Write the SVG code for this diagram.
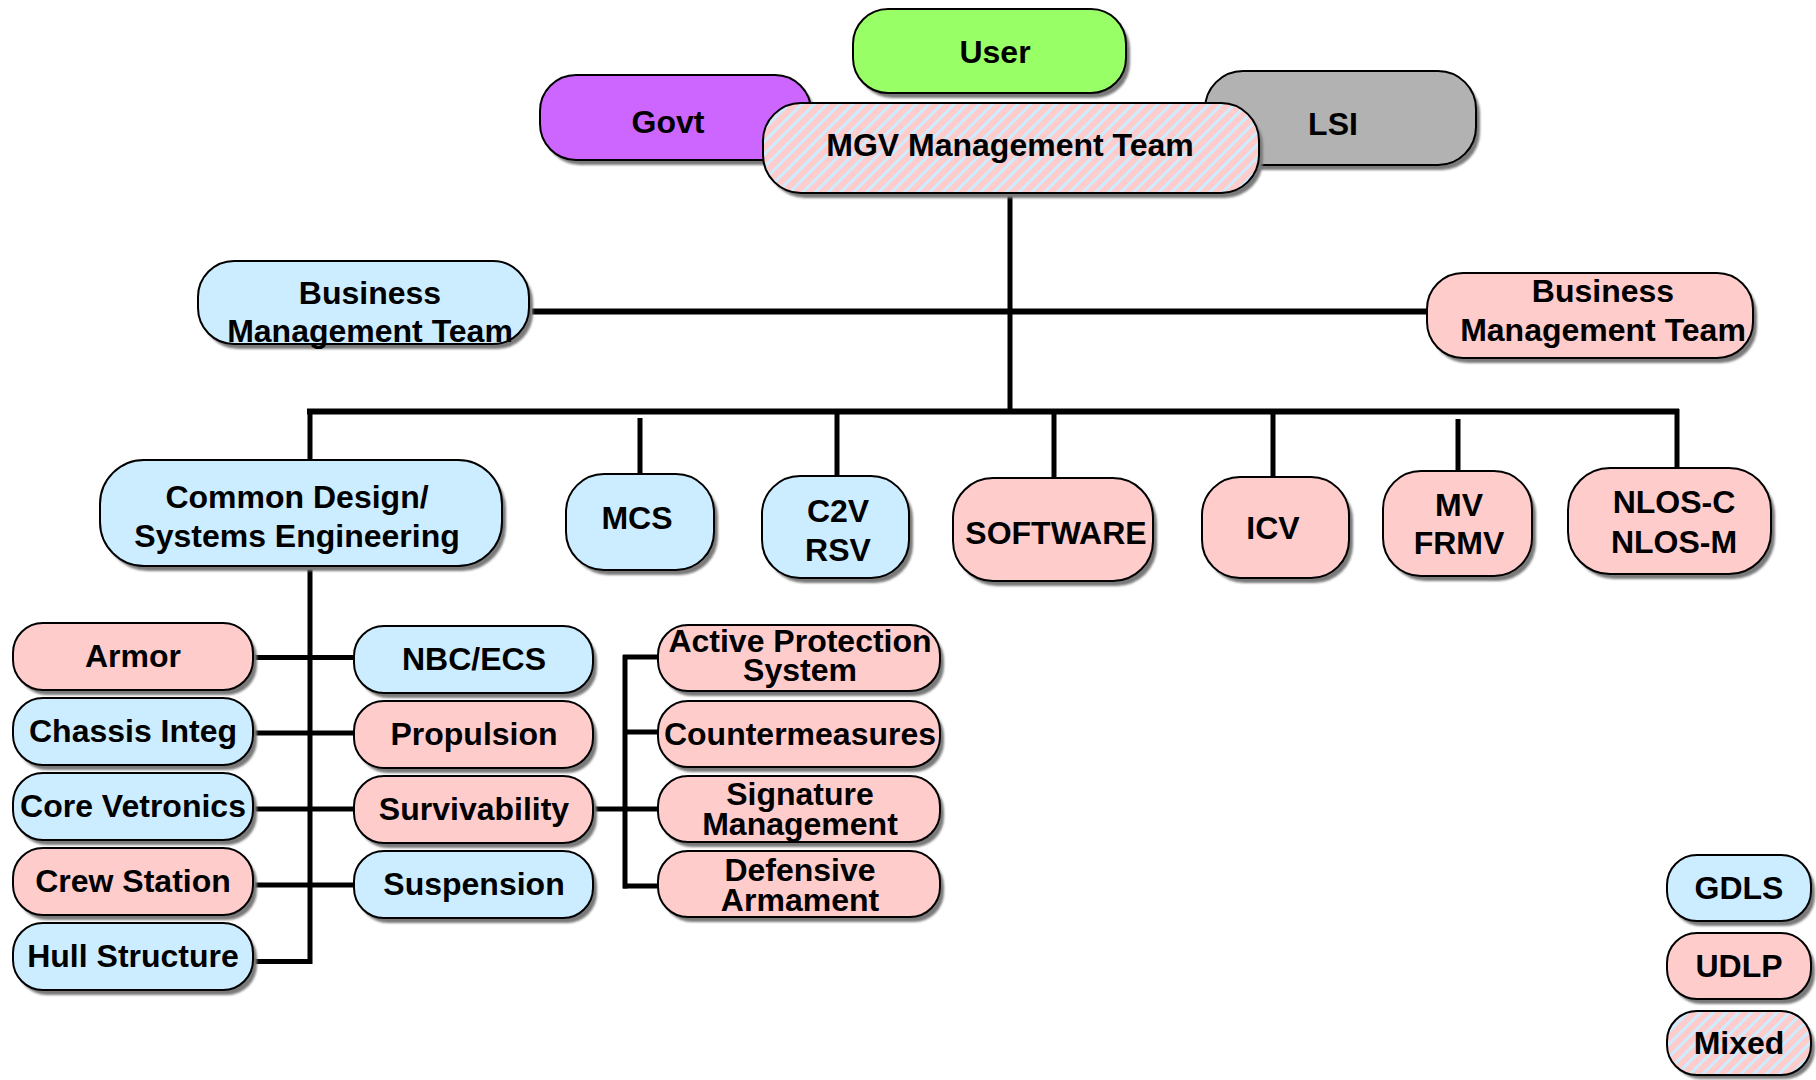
<svg xmlns="http://www.w3.org/2000/svg" width="1816" height="1080" viewBox="0 0 1816 1080">
<style>
.box{stroke:#000;stroke-width:2}
.sh{fill:#7a7a7a;filter:url(#soft)}
.b{fill:#CCECFF}
.p{fill:#FFCCCC}
.m{fill:url(#mix)}
.t{font-family:"Liberation Sans",Arial,Helvetica,sans-serif;font-weight:bold;font-size:32px;fill:#000;text-anchor:middle}
.c{fill:none;stroke:#000;stroke-width:5;stroke-linecap:butt}
.cw{fill:none;stroke:#000;stroke-width:6}
</style>
<defs>
<pattern id="mix" patternUnits="userSpaceOnUse" width="9" height="9" patternTransform="rotate(45)">
<rect width="9" height="9" fill="#FFCCCC"/>
<rect width="3" height="9" fill="#CCECFF"/>
</pattern>
<filter id="soft" x="-5%" y="-5%" width="110%" height="115%"><feGaussianBlur stdDeviation="1"/></filter>
</defs>
<rect width="1816" height="1080" fill="#fff"/>

<g id="connectors">
<line class="c" x1="1010" y1="193" x2="1010" y2="412"/>
<line class="cw" x1="532" y1="311.5" x2="1430" y2="311.5"/>
<line class="cw" x1="307" y1="411.5" x2="1679" y2="411.5"/>
<line class="c" x1="310" y1="409" x2="310" y2="460"/>
<line class="c" x1="640" y1="418" x2="640" y2="474"/>
<line class="c" x1="837" y1="411" x2="837" y2="476"/>
<line class="c" x1="1054" y1="411" x2="1054" y2="478"/>
<line class="c" x1="1273" y1="411" x2="1273" y2="477"/>
<line class="c" x1="1458" y1="419" x2="1458" y2="478"/>
<line class="c" x1="1677" y1="409" x2="1677" y2="468"/>
<polyline class="c" points="310,566 310,961.5 255,961.5"/>
<line class="c" x1="255" y1="657.5" x2="354" y2="657.5"/>
<line class="c" x1="255" y1="733" x2="354" y2="733"/>
<line class="c" x1="255" y1="809" x2="354" y2="809"/>
<line class="c" x1="255" y1="885" x2="354" y2="885"/>
<line class="c" x1="595" y1="809" x2="625" y2="809"/>
<line class="c" x1="625" y1="655" x2="625" y2="888.5"/>
<line class="c" x1="623" y1="657" x2="658" y2="657"/>
<line class="c" x1="623" y1="732" x2="658" y2="732"/>
<line class="c" x1="623" y1="809" x2="658" y2="809"/>
<line class="c" x1="623" y1="886" x2="658" y2="886"/>
</g>

<g id="govt"><rect class="sh" x="544" y="80" width="271" height="85" rx="36"/><rect class="box" fill="#CC66FF" x="540" y="75" width="271" height="85" rx="36"/><text class="t" x="668" y="133">Govt</text></g>
<g id="lsi"><rect class="sh" x="1209" y="76" width="271" height="94" rx="38"/><rect class="box" fill="#B2B2B2" x="1205" y="71" width="271" height="94" rx="38"/><text class="t" x="1333" y="135">LSI</text></g>
<g id="user"><rect class="sh" x="857" y="14" width="273" height="84" rx="35"/><rect class="box" fill="#99FF66" x="853" y="9" width="273" height="84" rx="35"/><text class="t" x="995" y="63">User</text></g>
<g id="mgv"><rect class="sh" x="767" y="108" width="496" height="90" rx="38"/><rect class="box m" x="763" y="103" width="496" height="90" rx="38"/><text class="t" x="1010" y="156">MGV Management Team</text></g>

<g id="bmt-left"><rect class="sh" x="202" y="266" width="331" height="83" rx="36"/><rect class="box b" x="198" y="261" width="331" height="83" rx="36"/><text class="t" x="370" y="304">Business</text><text class="t" x="370" y="342">Management Team</text></g>
<g id="bmt-right"><rect class="sh" x="1431" y="278" width="326" height="85" rx="36"/><rect class="box p" x="1427" y="273" width="326" height="85" rx="36"/><text class="t" x="1603" y="302">Business</text><text class="t" x="1603" y="341">Management Team</text></g>

<g id="common"><rect class="sh" x="104" y="465" width="402" height="106" rx="44"/><rect class="box b" x="100" y="460" width="402" height="106" rx="44"/><text class="t" x="297" y="508">Common Design/</text><text class="t" x="297" y="547">Systems Engineering</text></g>
<g id="mcs"><rect class="sh" x="570" y="479" width="148" height="96" rx="38"/><rect class="box b" x="566" y="474" width="148" height="96" rx="38"/><text class="t" x="637" y="529">MCS</text></g>
<g id="c2v"><rect class="sh" x="766" y="481" width="147" height="102" rx="38"/><rect class="box b" x="762" y="476" width="147" height="102" rx="38"/><text class="t" x="838" y="522">C2V</text><text class="t" x="838" y="561">RSV</text></g>
<g id="software"><rect class="sh" x="957" y="483" width="200" height="103" rx="40"/><rect class="box p" x="953" y="478" width="200" height="103" rx="40"/><text class="t" x="1056" y="544">SOFTWARE</text></g>
<g id="icv"><rect class="sh" x="1206" y="482" width="147" height="101" rx="38"/><rect class="box p" x="1202" y="477" width="147" height="101" rx="38"/><text class="t" x="1273" y="539">ICV</text></g>
<g id="mv"><rect class="sh" x="1387" y="476" width="149" height="105" rx="38"/><rect class="box p" x="1383" y="471" width="149" height="105" rx="38"/><text class="t" x="1459" y="516">MV</text><text class="t" x="1459" y="554">FRMV</text></g>
<g id="nlos"><rect class="sh" x="1572" y="473" width="203" height="106" rx="42"/><rect class="box p" x="1568" y="468" width="203" height="106" rx="42"/><text class="t" x="1674" y="513">NLOS-C</text><text class="t" x="1674" y="553">NLOS-M</text></g>

<g id="armor"><rect class="sh" x="17" y="628" width="240" height="67" rx="30"/><rect class="box p" x="13" y="623" width="240" height="67" rx="30"/><text class="t" x="133" y="667">Armor</text></g>
<g id="chassis"><rect class="sh" x="17" y="703" width="240" height="67" rx="30"/><rect class="box b" x="13" y="698" width="240" height="67" rx="30"/><text class="t" x="133" y="742">Chassis Integ</text></g>
<g id="core"><rect class="sh" x="17" y="778" width="240" height="67" rx="30"/><rect class="box b" x="13" y="773" width="240" height="67" rx="30"/><text class="t" x="133" y="817">Core Vetronics</text></g>
<g id="crew"><rect class="sh" x="17" y="853" width="240" height="67" rx="30"/><rect class="box p" x="13" y="848" width="240" height="67" rx="30"/><text class="t" x="133" y="892">Crew Station</text></g>
<g id="hull"><rect class="sh" x="17" y="928" width="240" height="67" rx="30"/><rect class="box b" x="13" y="923" width="240" height="67" rx="30"/><text class="t" x="133" y="967">Hull Structure</text></g>

<g id="nbc"><rect class="sh" x="358" y="631" width="239" height="67" rx="30"/><rect class="box b" x="354" y="626" width="239" height="67" rx="30"/><text class="t" x="474" y="670">NBC/ECS</text></g>
<g id="propulsion"><rect class="sh" x="358" y="706" width="239" height="67" rx="30"/><rect class="box p" x="354" y="701" width="239" height="67" rx="30"/><text class="t" x="474" y="745">Propulsion</text></g>
<g id="survivability"><rect class="sh" x="358" y="781" width="239" height="67" rx="30"/><rect class="box p" x="354" y="776" width="239" height="67" rx="30"/><text class="t" x="474" y="820">Survivability</text></g>
<g id="suspension"><rect class="sh" x="358" y="856" width="239" height="67" rx="30"/><rect class="box b" x="354" y="851" width="239" height="67" rx="30"/><text class="t" x="474" y="895">Suspension</text></g>

<g id="aps"><rect class="sh" x="662" y="630" width="282" height="66" rx="30"/><rect class="box p" x="658" y="625" width="282" height="66" rx="30"/><text class="t" x="800" y="652">Active Protection</text><text class="t" x="800" y="681">System</text></g>
<g id="counter"><rect class="sh" x="662" y="706" width="282" height="66" rx="30"/><rect class="box p" x="658" y="701" width="282" height="66" rx="30"/><text class="t" x="800" y="745">Countermeasures</text></g>
<g id="signature"><rect class="sh" x="662" y="781" width="282" height="66" rx="30"/><rect class="box p" x="658" y="776" width="282" height="66" rx="30"/><text class="t" x="800" y="805">Signature</text><text class="t" x="800" y="835">Management</text></g>
<g id="defensive"><rect class="sh" x="662" y="856" width="282" height="66" rx="30"/><rect class="box p" x="658" y="851" width="282" height="66" rx="30"/><text class="t" x="800" y="881">Defensive</text><text class="t" x="800" y="911">Armament</text></g>

<g id="legend-gdls"><rect class="sh" x="1671" y="860" width="144" height="66" rx="30"/><rect class="box b" x="1667" y="855" width="144" height="66" rx="30"/><text class="t" x="1739" y="899">GDLS</text></g>
<g id="legend-udlp"><rect class="sh" x="1671" y="938" width="144" height="66" rx="30"/><rect class="box p" x="1667" y="933" width="144" height="66" rx="30"/><text class="t" x="1739" y="977">UDLP</text></g>
<g id="legend-mixed"><rect class="sh" x="1671" y="1016" width="144" height="63" rx="30"/><rect class="box m" x="1667" y="1011" width="144" height="64" rx="30"/><text class="t" x="1739" y="1054">Mixed</text></g>
</svg>
